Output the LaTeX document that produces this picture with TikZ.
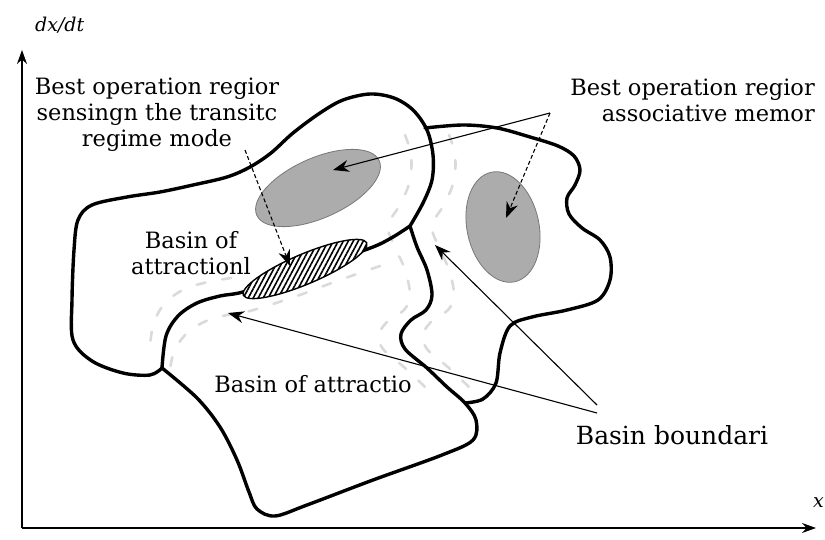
\documentclass[tikz,border=0pt]{standalone}
\usepackage{fontspec}
\setmainfont{DejaVu Serif}
\usetikzlibrary{arrows.meta, patterns.meta, positioning}
\definecolor{myfill}{RGB}{172,172,172}
\definecolor{myedge}{RGB}{120,120,120}
\definecolor{myghost}{RGB}{218,218,218}
\tikzset{
  boundary/.style={line width=3.4pt, line join=round, line cap=round},
  ghost/.style={line width=2.6pt, color=myghost, dash pattern=on 9pt off 17pt, line cap=round},
  region/.style={fill=myfill, draw=myedge, line width=0.8pt},
  hatched/.style={preaction={fill=white}, pattern={Lines[angle=62,distance=4.4pt,line width=1.6pt]},
    draw=black, line width=1.4pt},
  lbl/.style={font=\fontsize{22.5}{26}\selectfont, align=center, inner sep=0pt},
  axlbl/.style={font=\fontsize{19}{22}\selectfont\itshape, inner sep=0pt},
  arrow/.style={-{Stealth[length=16pt,width=12pt]}, line width=1.1pt},
  dasharrow/.style={arrow, dash pattern=on 4pt off 2.5pt},
  axis/.style={-{Stealth[length=14pt,width=10pt]}, line width=1.6pt}
}

\begin{document}
\begin{tikzpicture}[x=1pt, y=-1pt]
  \useasboundingbox (0,0) rectangle (825,540);

  % axes
  \coordinate (O) at (22,528);
  \coordinate (yTop) at (22,50);
  \coordinate (xEnd) at (816,528);
  \draw[axis] (O) -- (yTop);
  \draw[axis] (O) -- (xEnd);
  \node[axlbl, anchor=base west] (yLbl) at (35,32) {dx/dt};
  \node[axlbl, anchor=base west] (xLbl) at (813,507) {x};

  % blurred boundaries
  \foreach \dx in {-22,22}
    \draw[ghost, xshift=\dx pt] plot[smooth, tension=0.6] coordinates {(427,135) (433,155) (432,180) (423,203) (410,226) (417,247) (427,270) (432,295) (426,310) (411,320) (401,334) (405,349) (427,368) (447,387)};
  \draw[ghost, xshift=7pt, yshift=-19pt] plot[smooth, tension=0.6] coordinates {(373,247) (330,262) (290,277) (243,292) (220,296) (197,303) (178,316) (166,336) (162,360)};
  \draw[ghost, xshift=-12pt, yshift=14pt] plot[smooth, tension=0.6] coordinates {(243,292) (220,296) (197,303) (178,316) (166,336) (162,360)};

  % basin boundaries
  \draw[boundary] plot[smooth, tension=0.55] coordinates {(162,368) (150,375) (123,373) (92,361) (73,340) (72,300) (74,250) (78,220) (92,205) (127,197) (160,192) (193,185) (227,177) (250,167) (271,153) (293,133) (320,113) (343,100) (370,94) (394,98) (413,110) (427,130) (433,155) (432,180) (423,203) (410,226)};
  \draw[boundary] plot[smooth, tension=0.55] coordinates {(410,226) (393,237) (373,247) (330,262) (290,277) (243,292) (220,296) (197,303) (178,316) (166,336) (162,368)};
  \draw[boundary] plot[smooth, tension=0.55] coordinates {(410,226) (417,247) (427,270) (432,295) (426,310) (411,320) (401,334) (405,349) (427,368) (447,387) (465,403) (476,420) (473,440) (442,455) (373,480) (307,505) (275,516) (257,509) (249,492) (237,460) (220,427) (197,398) (162,368)};
  \draw[boundary] plot[smooth, tension=0.55] coordinates {(465,403) (483,399) (496,383) (500,353) (510,326) (532,317) (567,310) (598,300) (610,280) (610,257) (600,240) (582,228) (569,214) (567,198) (575,185) (580,170) (574,156) (558,146) (530,137) (497,128) (463,125) (425,128)};

  % operation regions
  \draw[region, rotate around={24:(318,188)}] (318,188) ellipse [x radius=67, y radius=30];
  \draw[region, rotate around={12:(503,227)}] (503,227) ellipse [x radius=36, y radius=56];
  \draw[hatched, rotate around={23:(305,269)}] (305,269) ellipse [x radius=67, y radius=15];

  % labels
  \node[lbl, anchor=north] (sensTxt) at (157,78) {Best operation regior\\sensingn the transitc\\regime mode};
  \node[lbl, anchor=north east, align=right] (memTxt) at (815,79) {Best operation regior\\associative memor};
  \node[lbl, anchor=north] (basinOne) at (191,231) {Basin of\\attractionl};
  \node[lbl, anchor=base] (basinTwo) at (313,392) {Basin of attractio};
  \node[lbl, font=\fontsize{25}{28}\selectfont, anchor=base] (bndTxt) at (672,444) {Basin boundari};

  % pointers
  \coordinate (sensFrom) at (245,150);
  \coordinate (hatchTip) at (290,266);
  \coordinate (memApex) at (550,113);
  \coordinate (optTip) at (333,170);
  \coordinate (memTip) at (506,218);
  \coordinate (bndApexA) at (597,405);
  \coordinate (bndApexB) at (597,413);
  \coordinate (bndTipA) at (435,245);
  \coordinate (bndTipB) at (228,313);
  \draw[dasharrow] (sensFrom) -- (hatchTip);
  \draw[arrow] (memApex) -- (optTip);
  \draw[dasharrow] (memApex) -- (memTip);
  \draw[arrow] (bndApexA) -- (bndTipA);
  \draw[arrow] (bndApexB) -- (bndTipB);
\end{tikzpicture}
\end{document}
